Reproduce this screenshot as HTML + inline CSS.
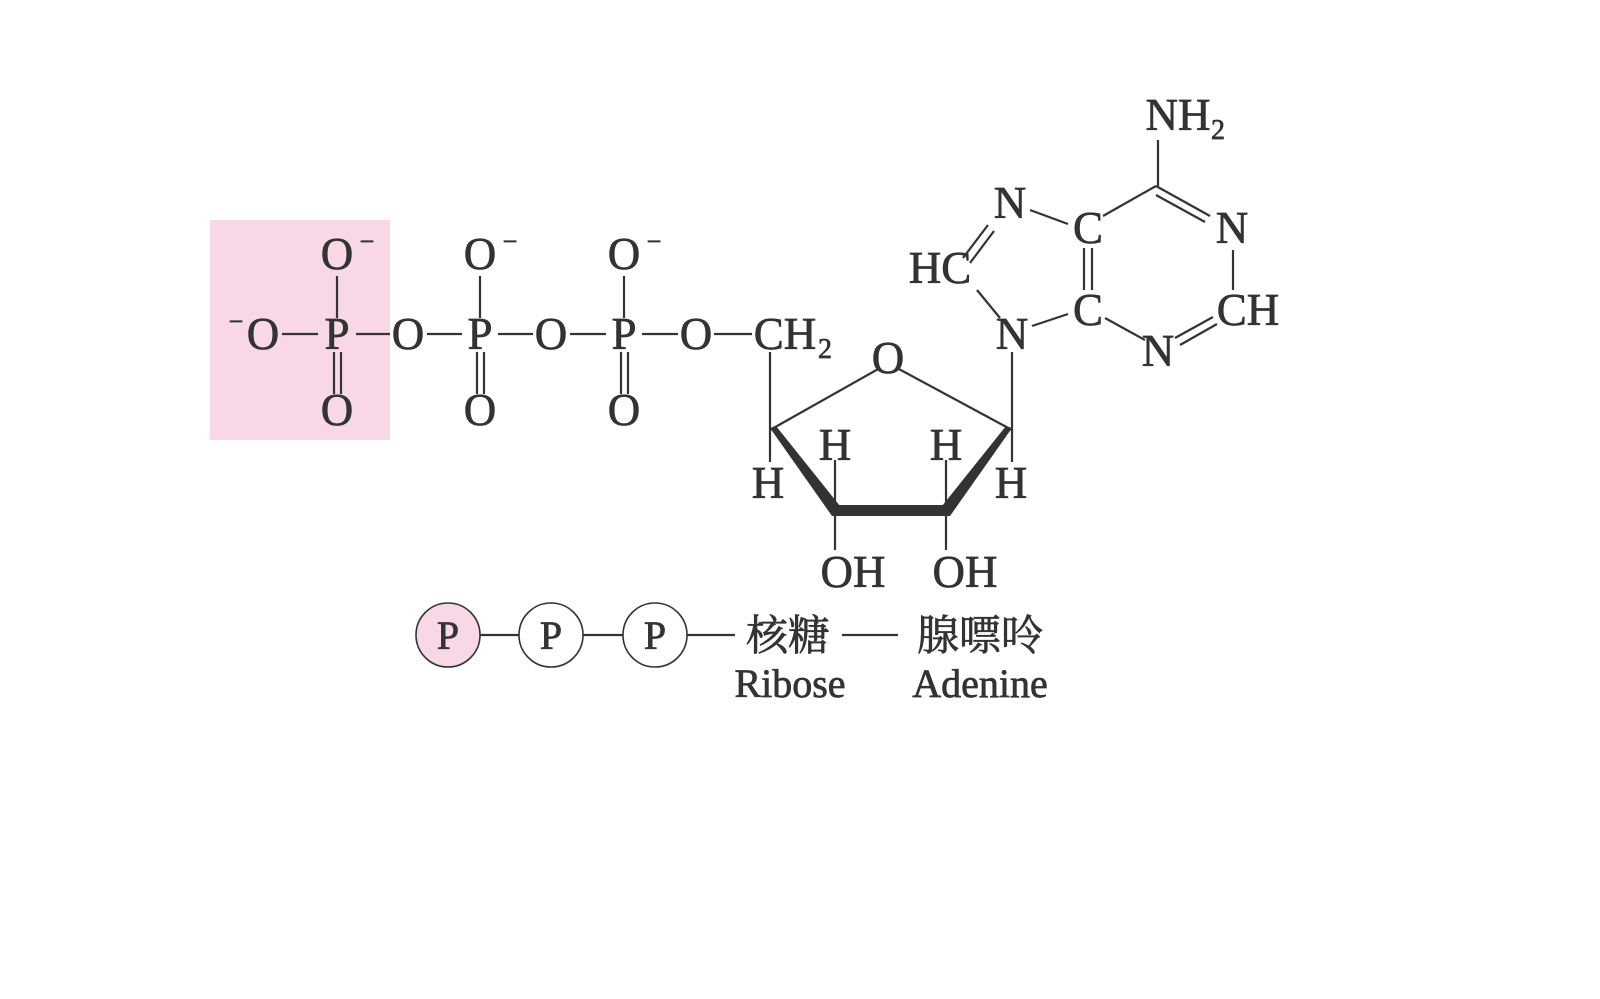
<!DOCTYPE html>
<html><head><meta charset="utf-8"><style>
html,body{margin:0;padding:0;background:#fff;}
svg{display:block;}
text{font-family:"Liberation Serif","Noto Serif CJK SC",serif;fill:#333;stroke:#333;stroke-width:0.7;}
</style></head><body>
<svg width="1600" height="999" viewBox="0 0 1600 999" xmlns="http://www.w3.org/2000/svg">
<rect x="210" y="220" width="180" height="220" fill="#f8d8e7"/>
<g stroke="#333" stroke-width="2.2" fill="none">
<line x1="282" y1="334" x2="318" y2="334"/>
<line x1="356" y1="334" x2="390" y2="334"/>
<line x1="427" y1="334" x2="462" y2="334"/>
<line x1="498" y1="334" x2="533" y2="334"/>
<line x1="570" y1="334" x2="606" y2="334"/>
<line x1="642" y1="334" x2="678" y2="334"/>
<line x1="714" y1="334" x2="752" y2="334"/>
<line x1="337" y1="276" x2="337" y2="318"/>
<line x1="334" y1="352" x2="334" y2="394"/><line x1="341" y1="352" x2="341" y2="394"/>
<line x1="480" y1="276" x2="480" y2="318"/>
<line x1="477" y1="352" x2="477" y2="394"/><line x1="484" y1="352" x2="484" y2="394"/>
<line x1="624" y1="276" x2="624" y2="318"/>
<line x1="621" y1="352" x2="621" y2="394"/><line x1="628" y1="352" x2="628" y2="394"/>
<line x1="770" y1="352" x2="770" y2="462"/>
<line x1="770" y1="430" x2="880" y2="368"/>
<line x1="897" y1="368" x2="1012" y2="430"/>
<line x1="1012" y1="352" x2="1012" y2="462"/>
<line x1="835" y1="460" x2="835" y2="550"/>
<line x1="946" y1="460" x2="946" y2="550"/>
<line x1="977" y1="290" x2="1000" y2="318"/>
<line x1="963" y1="258" x2="988" y2="225"/><line x1="970" y1="263" x2="994" y2="231"/>
<line x1="1030" y1="210" x2="1068" y2="224"/>
<line x1="1084" y1="248" x2="1084" y2="290"/><line x1="1092" y1="248" x2="1092" y2="290"/>
<line x1="1032" y1="326" x2="1068" y2="314"/>
<line x1="1103" y1="216" x2="1156" y2="186"/>
<line x1="1156" y1="186" x2="1210" y2="216"/><line x1="1156" y1="195" x2="1205" y2="222"/>
<line x1="1158" y1="140" x2="1158" y2="186"/>
<line x1="1233" y1="250" x2="1233" y2="290"/>
<line x1="1213" y1="317" x2="1175" y2="338"/><line x1="1217" y1="324" x2="1180" y2="345"/>
<line x1="1145" y1="340" x2="1105" y2="318"/>
<line x1="480" y1="635" x2="519" y2="635"/>
<line x1="583" y1="635" x2="623" y2="635"/>
<line x1="687" y1="635" x2="735" y2="635"/>
<line x1="842" y1="635" x2="898" y2="635"/>
</g>
<polygon points="770,428 776,426 840,506 840,516 832,516" fill="#333"/>
<rect x="834" y="505" width="113" height="11" fill="#333"/>
<polygon points="1012,428 1006,426 942,506 942,516 950,516" fill="#333"/>
<g font-size="45" text-anchor="middle">
<text x="337" y="269">O</text><text x="367" y="250" font-size="26">−</text>
<text x="480" y="269">O</text><text x="510" y="250" font-size="26">−</text>
<text x="624" y="269">O</text><text x="654" y="250" font-size="26">−</text>
<text x="236" y="330" font-size="26">−</text><text x="263" y="349">O</text>
<text x="337" y="349">P</text><text x="408" y="349">O</text>
<text x="480" y="349">P</text><text x="551" y="349">O</text>
<text x="624" y="349">P</text><text x="696" y="349">O</text>
<text x="337" y="425">O</text><text x="480" y="425">O</text><text x="624" y="425">O</text>
<text x="785" y="349">CH</text><text x="825" y="358" font-size="28">2</text>
<text x="888" y="373">O</text>
<text x="768" y="498">H</text><text x="835" y="460">H</text><text x="946" y="460">H</text><text x="1011" y="498">H</text>
<text x="853" y="587">OH</text><text x="965" y="587">OH</text>
<text x="1012" y="349">N</text>
<text x="940" y="283">HC</text>
<text x="1010" y="218">N</text>
<text x="1088" y="243">C</text>
<text x="1088" y="325">C</text>
<text x="1232" y="243">N</text>
<text x="1248" y="325">CH</text>
<text x="1158" y="366">N</text>
<text x="1178" y="130">NH</text><text x="1218" y="139" font-size="28">2</text>
</g>
<circle cx="448" cy="635" r="32" fill="#f8d8e7" stroke="#333" stroke-width="1.6"/>
<circle cx="551" cy="635" r="32" fill="#fff" stroke="#333" stroke-width="1.6"/>
<circle cx="655" cy="635" r="32" fill="#fff" stroke="#333" stroke-width="1.6"/>
<g font-size="40" text-anchor="middle">
<text x="448" y="649">P</text><text x="551" y="649">P</text><text x="655" y="649">P</text>
<text x="788" y="650" font-size="42">核糖</text>
<text x="980" y="650" font-size="42">腺嘌呤</text>
<text x="790" y="697">Ribose</text>
<text x="980" y="697">Adenine</text>
</g>
</svg>
</body></html>
